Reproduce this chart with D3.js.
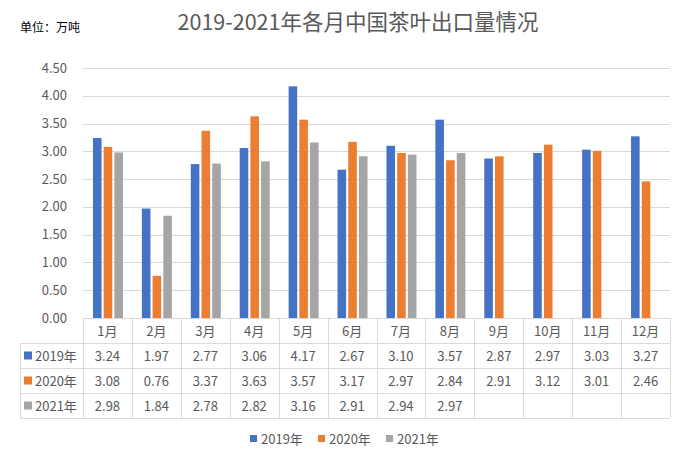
<!DOCTYPE html>
<html>
<head>
<meta charset="utf-8">
<script src="https://cdn.jsdelivr.net/npm/d3@7"></script>
<style>
  body { margin: 0; background: #fff; }
  svg { font-family: "Noto Sans CJK SC", sans-serif; }
</style>
</head>
<body>
<svg width="687" height="464"></svg>
<script>
var months = ['1月','2月','3月','4月','5月','6月','7月','8月','9月','10月','11月','12月'];
var seriesNames = ['2019年','2020年','2021年'];
var v2019 = [3.24, 1.97, 2.77, 3.06, 4.17, 2.67, 3.10, 3.57, 2.87, 2.97, 3.03, 3.27];
var v2020 = [3.08, 0.76, 3.37, 3.63, 3.57, 3.17, 2.97, 2.84, 2.91, 3.12, 3.01, 2.46];
var v2021 = [2.98, 1.84, 2.78, 2.82, 3.16, 2.91, 2.94, 2.97, null, null, null, null];
var yTicks = [0, 0.5, 1, 1.5, 2, 2.5, 3, 3.5, 4, 4.5];
var colors = ['#4472C4', '#ED7D31', '#A5A5A5'];
var series = [v2019, v2020, v2021];

var svg = d3.select('svg');
var textColor = '#595959';
var plotL = 83, plotR = 670, plotT = 68, plotB = 318;
var rowH = 25;

var x = d3.scaleBand().domain(months).range([plotL, plotR]);
var y = d3.scaleLinear().domain([0, 4.5]).range([plotB, plotT]);
var xs = d3.scaleBand().domain([0,1,2]).range([0, 30]).paddingInner(0.2);

// title
svg.append('text')
  .attr('x', 358).attr('y', 30)
  .attr('text-anchor', 'middle')
  .attr('font-size', 21.5)
  .attr('fill', textColor)
  .text('2019-2021年各月中国茶叶出口量情况');

svg.append('text')
  .attr('x', 20).attr('y', 32)
  .attr('font-size', 12)
  .attr('fill', '#000')
  .text('单位：万吨');

// gridlines
svg.append('g').selectAll('line').data(yTicks).enter().append('line')
  .attr('x1', plotL).attr('x2', plotR)
  .attr('y1', function(d){ return Math.round(y(d)) + 0.5; })
  .attr('y2', function(d){ return Math.round(y(d)) + 0.5; })
  .attr('stroke', '#D9D9D9').attr('stroke-width', 1);

// y labels
svg.append('g').selectAll('text').data(yTicks).enter().append('text')
  .attr('x', 67)
  .attr('y', function(d){ return y(d) + 4.5; })
  .attr('text-anchor', 'end')
  .attr('font-size', 13)
  .attr('fill', textColor)
  .text(function(d){ return d.toFixed(2); });

// bars
series.forEach(function(vals, si){
  svg.append('g').selectAll('rect')
    .data(vals.map(function(v, i){ return {m: months[i], v: v}; }).filter(function(d){ return d.v != null; }))
    .enter().append('rect')
    .attr('x', function(d){ return x(d.m) + x.bandwidth()/2 - 14.5 + xs(si); })
    .attr('width', xs.bandwidth())
    .attr('y', function(d){ return y(d.v); })
    .attr('height', function(d){ return plotB - y(d.v); })
    .attr('fill', colors[si]);
});

// data table
var tbl = svg.append('g');
var gridColor = '#D9D9D9';
// horizontal lines
for (var r = 0; r <= 4; r++) {
  tbl.append('line')
    .attr('x1', r === 0 ? plotL : 20).attr('x2', plotR)
    .attr('y1', plotB + r*rowH + 0.5).attr('y2', plotB + r*rowH + 0.5)
    .attr('stroke', gridColor);
}
// vertical lines
tbl.append('line').attr('x1', 20.5).attr('x2', 20.5)
  .attr('y1', plotB + rowH).attr('y2', plotB + 4*rowH).attr('stroke', gridColor);
months.concat(['end']).forEach(function(m, i){
  var xx = Math.round(plotL + i * x.bandwidth()) + 0.5;
  tbl.append('line').attr('x1', xx).attr('x2', xx)
    .attr('y1', plotB).attr('y2', plotB + 4*rowH).attr('stroke', gridColor);
});
// header
tbl.selectAll('.mh').data(months).enter().append('text')
  .attr('x', function(d){ return x(d) + x.bandwidth()/2; })
  .attr('y', plotB + rowH/2 + 5)
  .attr('text-anchor', 'middle')
  .attr('font-size', 13)
  .attr('fill', textColor)
  .text(function(d){ return d; });
// rows
series.forEach(function(vals, si){
  var cy = plotB + (si+1)*rowH + rowH/2;
  tbl.append('rect').attr('x', 24).attr('y', cy - 4).attr('width', 8).attr('height', 8).attr('fill', colors[si]);
  tbl.append('text').attr('x', 35).attr('y', cy + 5)
    .attr('font-size', 13).attr('fill', textColor).text(seriesNames[si]);
  tbl.selectAll('.v' + si).data(vals).enter().append('text')
    .attr('x', function(d, i){ return x(months[i]) + x.bandwidth()/2; })
    .attr('y', cy + 5)
    .attr('text-anchor', 'middle')
    .attr('font-size', 13)
    .attr('fill', textColor)
    .text(function(d){ return d == null ? '' : d.toFixed(2); });
});

// legend
var legX = [250, 318, 386];
seriesNames.forEach(function(n, i){
  svg.append('rect').attr('x', legX[i]).attr('y', 435).attr('width', 7).attr('height', 7).attr('fill', colors[i]);
  svg.append('text').attr('x', legX[i] + 11).attr('y', 443.5)
    .attr('font-size', 13).attr('fill', textColor).text(n);
});
</script>
</body>
</html>
